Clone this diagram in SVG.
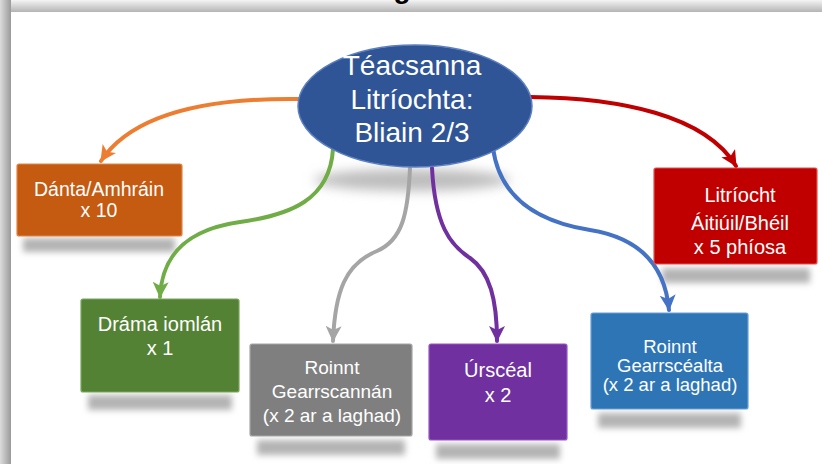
<svg xmlns="http://www.w3.org/2000/svg" width="822" height="464" viewBox="0 0 822 464">
<style>
text{font-family:"Liberation Sans",Arial,sans-serif;fill:#fff;text-anchor:middle}
.t20{font-size:20px}
.t19{font-size:19px}
.t18{font-size:18.5px}
.ttl{font-size:28px}
.box{stroke-width:1.2}
.conn{fill:none;stroke-width:4;stroke-linecap:round}
.sh{fill:#b4b4b4;filter:url(#blur)}
</style>
<defs>
<filter id="blur" x="-20%" y="-60%" width="140%" height="220%"><feGaussianBlur stdDeviation="3"/></filter>
<filter id="blur2" x="-30%" y="-100%" width="160%" height="300%"><feGaussianBlur stdDeviation="6"/></filter>
<linearGradient id="gl" x1="0" y1="0" x2="1" y2="0"><stop offset="0" stop-color="#dcdcdc"/><stop offset="1" stop-color="#9a9a9a"/></linearGradient>
<linearGradient id="gt" x1="0" y1="0" x2="0" y2="1"><stop offset="0" stop-color="#f4f4f4"/><stop offset="1" stop-color="#b4b4b4"/></linearGradient>
<marker id="mO" markerUnits="userSpaceOnUse" markerWidth="18" markerHeight="18" refX="15" refY="8" orient="auto"><path d="M0,0 L16,8 L0,16 L4,8 z" fill="#ED7D31"/></marker>
<marker id="mR" markerUnits="userSpaceOnUse" markerWidth="18" markerHeight="18" refX="15" refY="8" orient="auto"><path d="M0,0 L16,8 L0,16 L4,8 z" fill="#C00000"/></marker>
<marker id="mG" markerUnits="userSpaceOnUse" markerWidth="18" markerHeight="18" refX="15" refY="8" orient="auto"><path d="M0,0 L16,8 L0,16 L4,8 z" fill="#70AD47"/></marker>
<marker id="mY" markerUnits="userSpaceOnUse" markerWidth="18" markerHeight="18" refX="15" refY="8" orient="auto"><path d="M0,0 L16,8 L0,16 L4,8 z" fill="#A5A5A5"/></marker>
<marker id="mP" markerUnits="userSpaceOnUse" markerWidth="18" markerHeight="18" refX="15" refY="8" orient="auto"><path d="M0,0 L16,8 L0,16 L4,8 z" fill="#7030A0"/></marker>
<marker id="mB" markerUnits="userSpaceOnUse" markerWidth="18" markerHeight="18" refX="15" refY="8" orient="auto"><path d="M0,0 L16,8 L0,16 L4,8 z" fill="#4472C4"/></marker>
</defs>
<g id="frame">
<rect x="0" y="0" width="822" height="464" fill="#e6e6e6"/>
<rect x="0" y="0" width="822" height="12" fill="url(#gt)"/>
<rect x="0" y="0" width="11" height="464" fill="url(#gl)"/>
<rect x="11" y="12" width="811" height="452" fill="#fff"/>
<text x="402" y="-2" style="font-size:28px;font-weight:bold;fill:#000">g</text>
</g>
<g id="shadows">
<ellipse cx="412" cy="180" rx="98" ry="11" fill="#bdbdbd" filter="url(#blur2)"/>
<rect class="sh" x="23" y="238" width="152" height="14"/>
<rect class="sh" x="88" y="395" width="144" height="15"/>
<rect class="sh" x="257" y="440" width="148" height="15"/>
<rect class="sh" x="436" y="444" width="124" height="15"/>
<rect class="sh" x="598" y="413" width="143" height="15"/>
<rect class="sh" x="662" y="268" width="148" height="15"/>
</g>
<g id="connectors">
<path class="conn" stroke="#ED7D31" marker-end="url(#mO)" d="M299,99 C220,98 135,110 101,161"/>
<path class="conn" stroke="#C00000" marker-end="url(#mR)" d="M530,97 C620,98 705,115 736,166"/>
<path class="conn" stroke="#70AD47" marker-end="url(#mG)" d="M333,149 C330,200 290,215 240,222 C190,229 162,252 160,297"/>
<path class="conn" stroke="#A5A5A5" marker-end="url(#mY)" d="M410,168 C408,215 402,240 377,251 C345,264 335,292 333,341"/>
<path class="conn" stroke="#7030A0" marker-end="url(#mP)" d="M432,168 C435,225 450,245 470,258 C490,272 497,300 497,341"/>
<path class="conn" stroke="#4472C4" marker-end="url(#mB)" d="M493,148 C500,200 540,222 590,230 C640,238 665,265 669,310"/>
</g>
<g id="center">
<ellipse cx="415" cy="106" rx="117" ry="61" fill="#2F5597" stroke="#5B7FC0" stroke-width="1.5"/>
<text class="ttl" x="412" y="75">Téacsanna</text>
<text class="ttl" x="412" y="109">Litríochta:</text>
<text class="ttl" x="412" y="142">Bliain 2/3</text>
</g>
<g id="danta">
<rect class="box" x="17" y="164" width="165" height="72" rx="2" fill="#C55A11" stroke="#E0864A"/>
<text x="99" y="196" style="font-size:19.5px">Dánta/Amhráin</text>
<text x="99" y="217" style="font-size:19.5px">x 10</text>
</g>
<g id="drama">
<rect class="box" x="81" y="299" width="158" height="93" rx="2" fill="#548235" stroke="#79A65C"/>
<text class="t20" x="160" y="331">Dráma iomlán</text>
<text class="t20" x="160" y="355">x 1</text>
</g>
<g id="gearrscannan">
<rect class="box" x="250" y="344" width="162" height="92" rx="2" fill="#7F7F7F" stroke="#A6A6A6"/>
<text class="t19" x="332" y="374">Roinnt</text>
<text class="t19" x="332" y="398">Gearrscannán</text>
<text class="t19" x="332" y="422">(x 2 ar a laghad)</text>
</g>
<g id="ursceal">
<rect class="box" x="429" y="344" width="138" height="96" rx="2" fill="#7030A0" stroke="#9659C4"/>
<text class="t20" x="498" y="377">Úrscéal</text>
<text class="t20" x="498" y="402">x 2</text>
</g>
<g id="gearrscealta">
<rect class="box" x="591" y="313" width="157" height="96" rx="2" fill="#2E75B6" stroke="#6A9FD6"/>
<text class="t18" x="670" y="353">Roinnt</text>
<text class="t18" x="670" y="372">Gearrscéalta</text>
<text class="t18" x="670" y="391">(x 2 ar a laghad)</text>
</g>
<g id="litriocht">
<rect class="box" x="654" y="168" width="163" height="96" rx="2" fill="#C00000" stroke="#E05050"/>
<text class="t20" x="740" y="202">Litríocht</text>
<text class="t20" x="740" y="230">Áitiúil/Bhéil</text>
<text class="t20" x="740" y="254">x 5 phíosa</text>
</g>
</svg>
